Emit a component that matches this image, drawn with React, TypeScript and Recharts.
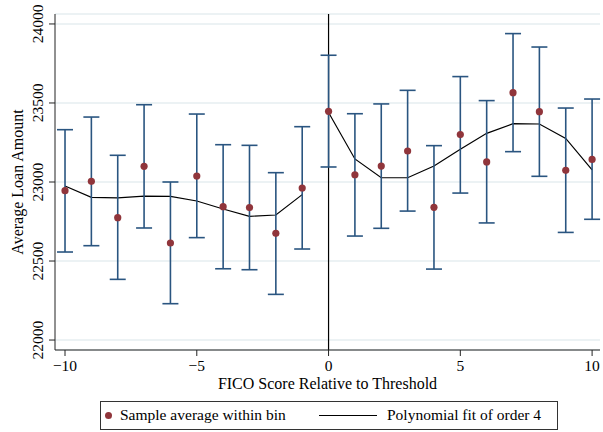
import {
  ComposedChart,
  Scatter,
  Line,
  ErrorBar,
  XAxis,
  YAxis,
  CartesianGrid,
  ReferenceLine,
} from 'recharts'

// bins of FICO score relative to threshold
const BINS = [-10, -9, -8, -7, -6, -5, -4, -3, -2, -1, 0, 1, 2, 3, 4, 5, 6, 7, 8, 9, 10]

// sample average within bin
const MEANS = [
  22945, 23004, 22774, 23099, 22614, 23038, 22844, 22838, 22675, 22962,
  23447, 23046, 23101, 23196, 22840, 23300, 23127, 23565, 23445, 23074, 23143,
]

// confidence interval bounds
const LOWER = [
  22557, 22597, 22384, 22709, 22230, 22648, 22451, 22445, 22289, 22576,
  23095, 22658, 22707, 22816, 22449, 22930, 22741, 23192, 23036, 22681, 22764,
]
const UPPER = [
  23331, 23411, 23169, 23489, 23000, 23430, 23236, 23232, 23059, 23350,
  23802, 23432, 23494, 23580, 23230, 23667, 23515, 23939, 23854, 23468, 23525,
]

// polynomial fit of order 4, left and right of threshold
const FIT_LEFT_X = [-10, -9, -8, -7, -6, -5, -4, -3, -2, -1]
const FIT_LEFT = [22975, 22903, 22899, 22911, 22909, 22880, 22829, 22783, 22791, 22920]
const FIT_RIGHT_X = [0, 1, 2, 3, 4, 5, 6, 7, 8, 9, 10]
const FIT_RIGHT = [23440, 23146, 23027, 23027, 23101, 23207, 23308, 23369, 23367, 23276, 23076]

const Y_TICKS = [22000, 22500, 23000, 23500, 24000]
const X_TICKS = [-10, -5, 0, 5, 10]

const MAROON = '#90353b'
const NAVY = '#2a5580'
const FONT = '"Liberation Serif", "Times New Roman", serif'

const points = BINS.map((x, i) => ({
  x,
  y: MEANS[i],
  err: [MEANS[i] - LOWER[i], UPPER[i] - MEANS[i]],
}))
const fitLeft = FIT_LEFT_X.map((x, i) => ({ x, y: FIT_LEFT[i] }))
const fitRight = FIT_RIGHT_X.map((x, i) => ({ x, y: FIT_RIGHT[i] }))

const fmtX = (v: number) => String(v).replace('-', '\u2212')

// eslint-disable-next-line @typescript-eslint/no-explicit-any
function YTick({ y, payload }: any) {
  return (
    <text
      x={43}
      y={y}
      transform={`rotate(-90 43 ${y})`}
      textAnchor="middle"
      fontSize={15.5}
      fill="#000"
      fontFamily={FONT}
    >
      {payload.value}
    </text>
  )
}

// eslint-disable-next-line @typescript-eslint/no-explicit-any
function Dot({ cx, cy }: any) {
  return <circle cx={cx} cy={cy} r={3.6} fill={MAROON} />
}

export default function App() {
  return (
    <div style={{ position: 'absolute', left: 0, top: 0, width: 603, height: 432, background: '#fff', fontFamily: FONT }}>
      <ComposedChart width={603} height={432} margin={{ top: 14, right: 3, bottom: 42, left: 0 }}>
        <CartesianGrid vertical={false} stroke="#e6eef1" strokeWidth={1.5} />
        <XAxis
          type="number"
          dataKey="x"
          domain={[-10.38, 10.3]}
          ticks={X_TICKS}
          allowDataOverflow
          tickFormatter={fmtX}
          height={40}
          tickSize={6}
          tickMargin={4}
          stroke="#222"
          tick={{ fill: '#000', fontSize: 15.5, fontFamily: FONT }}
          label={() => (
            <text x={327.5} y={389} textAnchor="middle" fontSize={16} fill="#000" fontFamily={FONT}>
              FICO Score Relative to Threshold
            </text>
          )}
        />
        <YAxis
          type="number"
          domain={[21937, 24063]}
          ticks={Y_TICKS}
          allowDataOverflow
          width={55}
          tickSize={6}
          stroke="#222"
          tick={<YTick />}
          label={() => (
            <text
              x={23}
              y={182}
              transform="rotate(-90 23 182)"
              textAnchor="middle"
              fontSize={16}
              fill="#000"
              fontFamily={FONT}
            >
              Average Loan Amount
            </text>
          )}
        />
        <ReferenceLine x={0} stroke="#000" strokeWidth={1.2} />
        <Line data={fitLeft} dataKey="y" stroke="#000" strokeWidth={1.2} dot={false} isAnimationActive={false} />
        <Line data={fitRight} dataKey="y" stroke="#000" strokeWidth={1.2} dot={false} isAnimationActive={false} />
        <Scatter data={points} dataKey="y" fill={MAROON} shape={<Dot />} isAnimationActive={false}>
          <ErrorBar dataKey="err" direction="y" width={8} stroke={NAVY} strokeWidth={1.6} isAnimationActive={false} />
        </Scatter>
      </ComposedChart>

      <div
        style={{
          position: 'absolute',
          left: 100,
          top: 401,
          width: 456,
          height: 27,
          border: '1px solid #333',
          fontSize: 15.5,
          color: '#000',
        }}
      >
        <span
          style={{
            position: 'absolute',
            left: 4,
            top: 10,
            width: 7,
            height: 7,
            borderRadius: '50%',
            background: MAROON,
          }}
        />
        <span style={{ position: 'absolute', left: 19, top: 4, whiteSpace: 'nowrap' }}>Sample average within bin</span>
        <span style={{ position: 'absolute', left: 218, top: 13, width: 58, height: 0, borderTop: '1.5px solid #000' }} />
        <span style={{ position: 'absolute', left: 286, top: 4, whiteSpace: 'nowrap' }}>Polynomial fit of order 4</span>
      </div>
    </div>
  )
}
